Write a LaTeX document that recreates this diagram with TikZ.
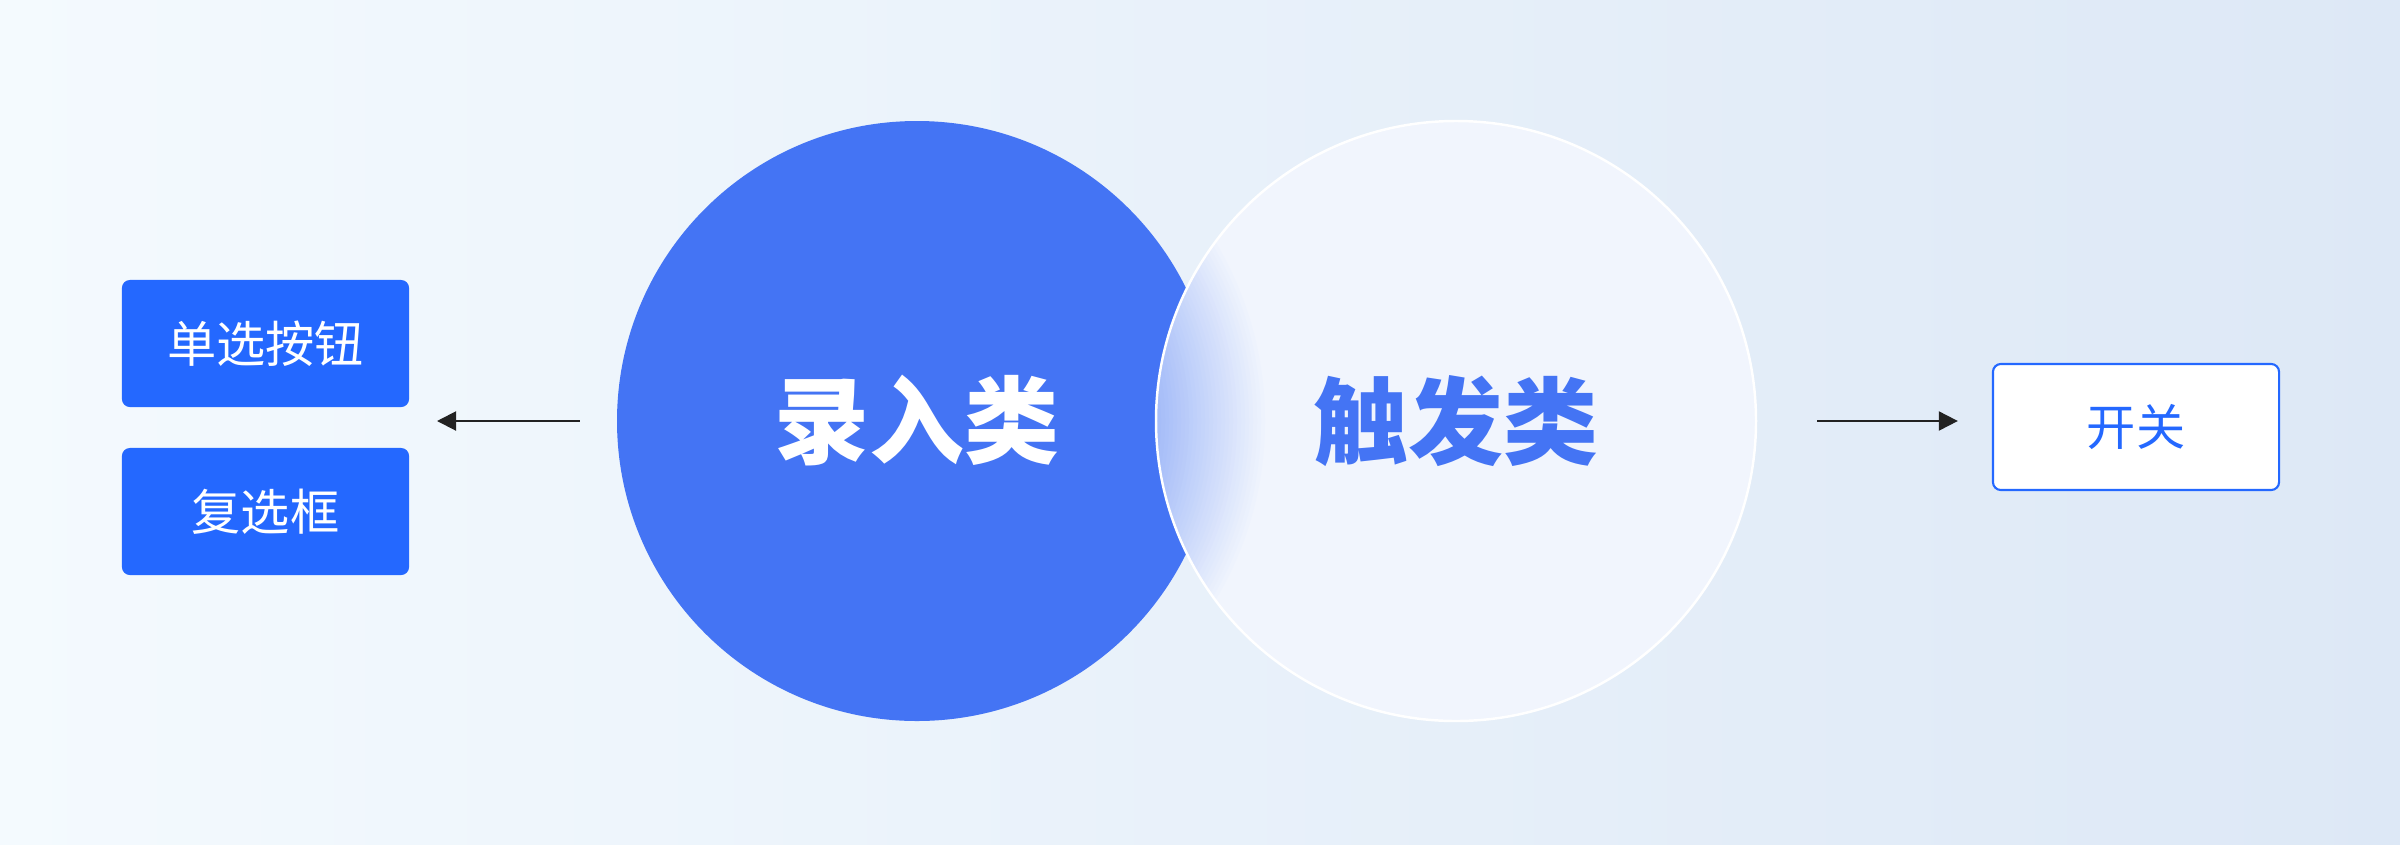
\documentclass[tikz,border=0pt]{standalone}
\usepackage{fontspec}
\newfontfamily\cjk{Noto Sans CJK SC}
\usetikzlibrary{arrows.meta}

\definecolor{bgleft}{HTML}{F4FAFE}
\definecolor{bgright}{HTML}{DDE8F6}
\definecolor{boxblue}{HTML}{2468FF}
\definecolor{ringblue}{HTML}{4474F4}
\definecolor{discfill}{HTML}{F1F5FD}
\definecolor{glow}{HTML}{A3BBF8}
\definecolor{arrowgrey}{HTML}{222222}

\tikzset{
  solidbox/.style={fill=boxblue, rounded corners=0.08cm, minimum width=2.87cm, minimum height=1.27cm, text=white, font=\cjk\fontsize{14pt}{16pt}\selectfont},
  linebox/.style={draw=boxblue, line width=0.6pt, fill=white, rounded corners=0.08cm, minimum width=2.86cm, minimum height=1.26cm, text=boxblue, font=\cjk\fontsize{14pt}{16pt}\selectfont},
  bigword/.style={font=\cjk\bfseries\fontsize{27pt}{30pt}\selectfont},
  flow/.style={draw=arrowgrey, line width=0.57pt, -{Triangle[length=0.19cm, width=0.19cm]}}
}

\begin{document}
\begin{tikzpicture}[x=0.01cm, y=0.01cm]
			%%%%% START %%%%%
			
			\shade[left color=bgleft, right color=bgright] (0, 0) rectangle (2400, 844);
			\useasboundingbox (0, 0) rectangle (2400, 844);
			
			\fill[ringblue] (917, 423) circle (300);
			\node[bigword, text=white] (rec) at (917, 423) {录入类};
			
			\fill[discfill] (1456, 423) circle (300);
			\begin{scope}
				\clip (1456, 423) circle (300);
				\foreach \r in {352,348,...,236} {
					\pgfmathsetmacro\p{min(100,100*(352-\r)/112)}
					\fill[glow!\p!discfill] (917, 423) circle (\r);
				}
			\end{scope}
			\draw[white, line width=0.7pt] (1456, 423) circle (300);
			\node[bigword, text=ringblue] (trig) at (1456, 423) {触发类};
			
			\node[solidbox] (radio) at (265.5, 500.5) {单选按钮};
			\node[solidbox] (check) at (265.5, 332.5) {复选框};
			\coordinate (picks) at (437, 423);
			\draw[flow, shorten <=3.37cm] (rec.center) -- (picks);
			
			\node[linebox] (switch) at (2136, 417) {开关};
			\draw[flow, shorten <=3.61cm, shorten >=0.34cm] (trig.center) -- (switch.west |- trig.center);
			
			%%%%% END %%%%%
\end{tikzpicture}
\end{document}
